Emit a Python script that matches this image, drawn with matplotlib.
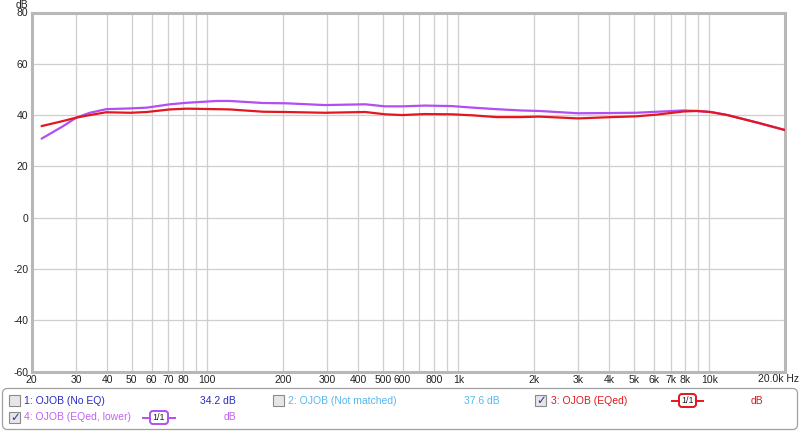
import matplotlib
matplotlib.use("Agg")
import matplotlib.pyplot as plt
from matplotlib.patches import FancyBboxPatch, Rectangle
from matplotlib.ticker import FixedLocator, NullLocator

# ---------------- data ----------------
freq_hz = [21.9, 26.7, 30.1, 34.1, 39.6, 49.5, 57.5, 71, 83, 109, 123, 167, 205,
           294, 426, 511, 598, 737, 944, 1140, 1420, 1770, 2100, 3000, 4070,
           5100, 6200, 7900, 8900, 10100, 11800, 15600, 20100]
eqed_db = [35.7, 37.7, 39.0, 40.0, 41.1, 40.9, 41.2, 42.2, 42.5, 42.3, 42.2, 41.3, 41.2,
           40.9, 41.2, 40.3, 40.0, 40.4, 40.3, 39.9, 39.2, 39.2, 39.4, 38.7, 39.2,
           39.5, 40.2, 41.4, 41.6, 41.2, 40.0, 37.0, 34.1]
eqed_lower_db = [30.8, 35.7, 39.0, 40.9, 42.3, 42.6, 42.9, 44.2, 44.8, 45.5, 45.5, 44.7, 44.6,
                 43.9, 44.2, 43.4, 43.4, 43.7, 43.5, 42.9, 42.3, 41.8, 41.6, 40.7, 40.8,
                 40.9, 41.3, 41.8, 41.6, 41.2, 40.0, 37.0, 34.1]

y_ticks = [80, 60, 40, 20, 0, -20, -40, -60]
x_grid = [20, 30, 40, 50, 60, 70, 80, 90, 100, 200, 300, 400, 500, 600, 700, 800, 900,
          1000, 2000, 3000, 4000, 5000, 6000, 7000, 8000, 9000, 10000, 20000]
x_labels = ["20", "30", "40", "50", "60", "70", "80", "", "100", "200", "300", "400", "500",
            "600", "", "800", "", "1k", "2k", "3k", "4k", "5k", "6k", "7k", "8k", "",
            "10k", ""]
x_last_label = "20.0k Hz"

legend_names = ["1: OJOB (No EQ)", "2: OJOB (Not matched)", "3: OJOB (EQed)", "4: OJOB (EQed, lower)"]
legend_values = ["34.2 dB", "37.6 dB", "dB", "dB"]

RED = "#e3171f"
PURPLE = "#b24ef2"
C1 = "#2a2ac0"
C2 = "#55b8f0"
C4 = "#c062f0"
FONT = "Liberation Sans"

W, H = 800, 432
fig = plt.figure(figsize=(W / 100, H / 100), dpi=100)
fig.patch.set_facecolor("white")

# overlay in pixel coords
ov = fig.add_axes([0, 0, 1, 1], zorder=0)
ov.set_xlim(0, W)
ov.set_ylim(H, 0)
ov.axis("off")

L, R, T, B = 31.7, 785, 12.5, 371.5
ax = fig.add_axes([L / W, 1 - B / H, (R - L) / W, (B - T) / H], zorder=2)
ax.set_xscale("log")
ax.set_xlim(20, 20000)
ax.set_ylim(-60, 80)

ax.plot(freq_hz, eqed_db, color=RED, lw=1.6, zorder=4, solid_capstyle="round")
ax.plot(freq_hz, eqed_lower_db, color=PURPLE, lw=1.6, zorder=3, solid_capstyle="round")

ax.yaxis.set_major_locator(FixedLocator(y_ticks))
ax.set_yticklabels([str(v) for v in y_ticks], fontsize=7.5, family=FONT)
ax.xaxis.set_major_locator(FixedLocator(x_grid))
ax.xaxis.set_minor_locator(NullLocator())
ax.set_xticklabels(x_labels, fontsize=7.5, family=FONT)
ax.tick_params(axis="both", length=0, pad=2.5, colors="#222222")
ax.grid(True, color="#cfcfcf", lw=0.9)
ax.set_axisbelow(True)
for s in ax.spines.values():
    s.set_color("#b8b8b8")
    s.set_linewidth(2.2)

ov.text(799, 379.5, x_last_label, fontsize=7.5, family=FONT, ha="right", va="center", color="#222222")
ov.text(16, 4.5, "dB", fontsize=7.5, family=FONT, ha="left", va="center", color="#222222")

# ---------------- legend box ----------------
ov.add_patch(FancyBboxPatch((2.5, 388.5), 795, 41, boxstyle="round,pad=0,rounding_size=5",
                            fc="white", ec="#a0a0a0", lw=0.9))


def checkbox(x, y, checked):
    ov.add_patch(Rectangle((x, y), 11, 11, fc="#e6e6e6", ec="#8a8a8a", lw=0.8))
    if checked:
        ov.text(x + 5.7, y + 5.8, "\u2713", fontsize=8.5, family="DejaVu Sans",
                ha="center", va="center", color="#203c9c", fontweight="bold")


def badge(x0, x1, y, color):
    ov.plot([x0, x0 + 7], [y, y], color=color, lw=1.4)
    ov.plot([x1 - 7, x1], [y, y], color=color, lw=1.4)
    ov.add_patch(FancyBboxPatch((x0 + 7, y - 6.5), (x1 - x0) - 14, 13,
                                boxstyle="round,pad=0,rounding_size=3",
                                fc="white", ec=color, lw=1.4))
    ov.text((x0 + x1) / 2, y, "1/1", fontsize=6.5, family=FONT, ha="center", va="center",
            color="#222222")


row1, row2 = 400.5, 417.5
checkbox(9, row1 - 5.5, False)
ov.text(24, row1, legend_names[0], fontsize=7.5, family=FONT, color=C1, va="center")
ov.text(236, row1, legend_values[0], fontsize=7.5, family=FONT, color=C1, va="center", ha="right")

checkbox(273, row1 - 5.5, False)
ov.text(288, row1, legend_names[1], fontsize=7.5, family=FONT, color=C2, va="center")
ov.text(500, row1, legend_values[1], fontsize=7.5, family=FONT, color=C2, va="center", ha="right")

checkbox(535, row1 - 5.5, True)
ov.text(551, row1, legend_names[2], fontsize=7.5, family=FONT, color=RED, va="center")
badge(672, 703, row1, RED)
ov.text(763, row1, legend_values[2], fontsize=7.5, family=FONT, color=RED, va="center", ha="right")

checkbox(9, row2 - 5.5, True)
ov.text(24, row2, legend_names[3], fontsize=7.5, family=FONT, color=C4, va="center")
badge(143, 175, row2, PURPLE)
ov.text(236, row2, legend_values[3], fontsize=7.5, family=FONT, color=C4, va="center", ha="right")

fig.savefig("out.png", dpi=100, facecolor="white")
